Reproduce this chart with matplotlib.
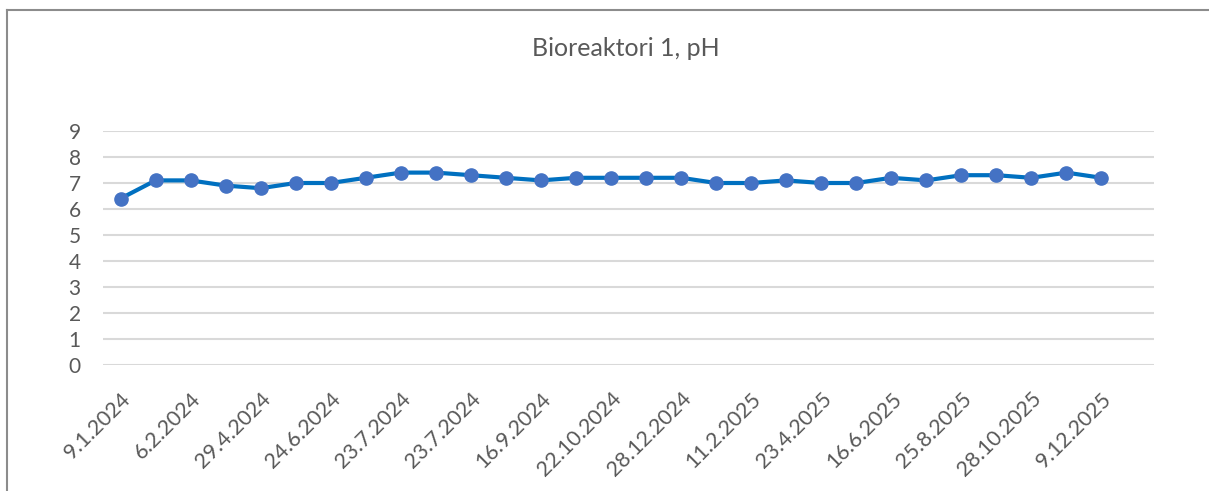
import matplotlib.pyplot as plt
from matplotlib.lines import Line2D

# pH readings, bioreactor 1
ph = [6.4, 7.1, 7.1, 6.9, 6.8, 7.0, 7.0, 7.2, 7.4, 7.4,
      7.3, 7.2, 7.1, 7.2, 7.2, 7.2, 7.2, 7.0, 7.0, 7.1,
      7.0, 7.0, 7.2, 7.1, 7.3, 7.3, 7.2, 7.4, 7.2]

# every second sample date is shown on the axis
date_labels = ['9.1.2024', '6.2.2024', '29.4.2024', '24.6.2024', '23.7.2024',
               '23.7.2024', '16.9.2024', '22.10.2024', '28.12.2024', '11.2.2025',
               '23.4.2025', '16.6.2025', '25.8.2025', '28.10.2025', '9.12.2025']
y_ticks = list(range(0, 10))

plt.rcParams['font.family'] = ['Lato', 'DejaVu Sans']
text_col = '#595959'

W, H = 1209, 491
fig = plt.figure(figsize=(W / 100, H / 100), dpi=100)
ax = fig.add_axes([103 / W, 1 - 365 / H, (1154 - 103) / W, (365 - 131) / H])

x = list(range(len(ph)))
ax.plot(x, ph, color='#0070C0', lw=3, marker='o', markersize=9.5,
        markerfacecolor='#4472C4', markeredgecolor='#4472C4', zorder=3)

ax.set_xlim(-0.5, len(ph) + 0.5)
ax.set_ylim(0, 9)
ax.set_yticks(y_ticks)
ax.set_yticklabels([str(v) for v in y_ticks])
ax.grid(axis='y', color='#d9d9d9', lw=1.5)
ax.set_axisbelow(True)

ax.set_xticks(x[::2])
ax.set_xticklabels(date_labels, rotation=45, ha='right', va='top',
                   rotation_mode='anchor')

ax.tick_params(axis='y', length=0, pad=16, labelsize=15, labelcolor=text_col)
ax.tick_params(axis='x', length=0, pad=17, labelsize=15.5, labelcolor=text_col)
for s in ax.spines.values():
    s.set_visible(False)

fig.text(626 / W, 1 - 48 / H, 'Bioreaktori 1, pH', ha='center', va='center',
         fontsize=18, color=text_col)

# chart frame (top and left edges)
fig.add_artist(Line2D([6.5 / W, 1], [1 - 9.5 / H, 1 - 9.5 / H],
                      transform=fig.transFigure, color='#8c8c8c', lw=1.5))
fig.add_artist(Line2D([6.5 / W, 6.5 / W], [0, 1 - 9.5 / H],
                      transform=fig.transFigure, color='#8c8c8c', lw=1.5))

fig.savefig('out.png', dpi=100)
